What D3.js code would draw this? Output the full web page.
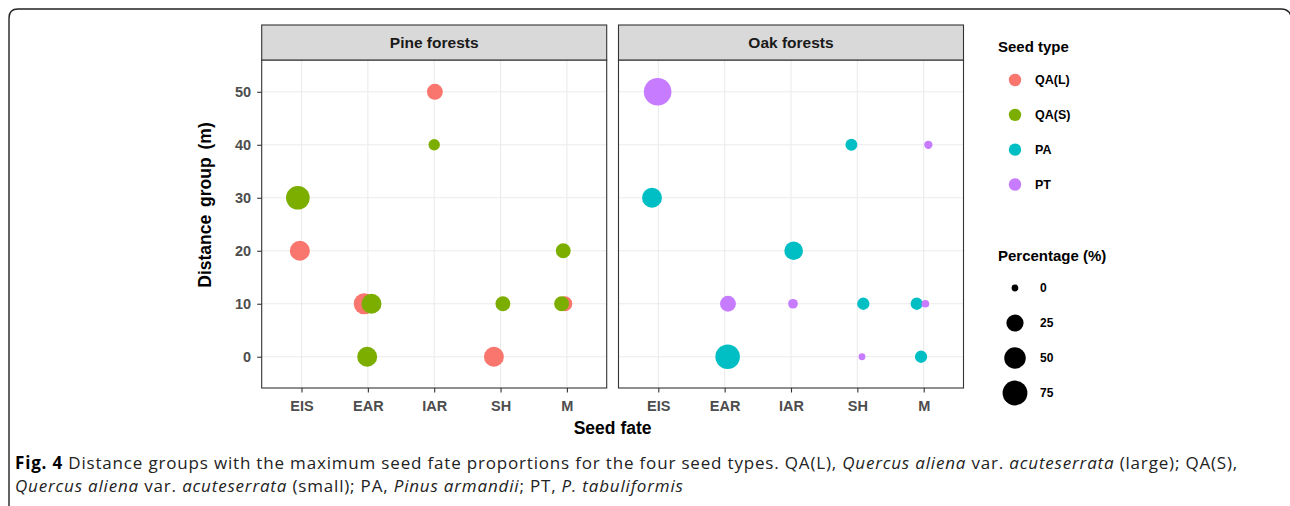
<!DOCTYPE html>
<html>
<head>
<meta charset="utf-8">
<script src="https://cdn.jsdelivr.net/npm/d3@7"></script>
<style>
  html, body { margin: 0; padding: 0; background: #fff; }
  svg { display: block; }
</style>
</head>
<body>
<svg id="chart" width="1290" height="506"></svg>
<script>
// Seed fate categories (x axis), forest panels and seed types
const fates = ["EIS", "EAR", "IAR", "SH", "M"];
const forests = ["Pine forests", "Oak forests"];
const seedTypes = ["QA(L)", "QA(S)", "PA", "PT"];
const yTicks = [0, 10, 20, 30, 40, 50];
const sizeBreaks = [0, 25, 50, 75];

// Rows: [seed fate, distance group (m), percentage (%), jitter (category units)]
const pineQAL = [
  ["IAR", 50, 19, 0.01],
  ["EIS", 20, 40, -0.025],
  ["EAR", 10, 46, -0.055],
  ["SH", 0, 40, -0.1],
  ["M", 10, 15, -0.03]
];
const pineQAS = [
  ["IAR", 40, 5, 0],
  ["EIS", 30, 66, -0.055],
  ["EAR", 10, 40, 0.055],
  ["EAR", 0, 40, -0.01],
  ["SH", 10, 15, 0.035],
  ["M", 20, 15, -0.055],
  ["M", 10, 15, -0.08]
];
const oakPA = [
  ["SH", 40, 6, -0.09],
  ["EIS", 30, 40, -0.095],
  ["IAR", 20, 32, 0.04],
  ["SH", 10, 7, 0.09],
  ["M", 10, 7, -0.105],
  ["EAR", 0, 73, 0.045],
  ["M", 0, 7, -0.04]
];
const oakPT = [
  ["EIS", 50, 100, -0.01],
  ["M", 40, 0.5, 0.07],
  ["EAR", 10, 19, 0.05],
  ["IAR", 10, 2, 0.03],
  ["M", 10, 0.2, 0.025],
  ["SH", 0, 0, 0.07]
];

const panelSeries = [
  [{ type: "QA(L)", rows: pineQAL }, { type: "QA(S)", rows: pineQAS }],
  [{ type: "PA", rows: oakPA }, { type: "PT", rows: oakPT }]
];

// ---- layout & styles ----
const font = "'Liberation Sans', Arial, Helvetica, sans-serif";
const svg = d3.select("#chart");

const colour = d3.scaleOrdinal()
  .domain(seedTypes)
  .range(["#F8766D", "#7CAE00", "#00BFC4", "#C77CFF"]);

const panelTop = 60, panelBottom = 388, stripTop = 25;
const panelLefts = [261.7, 618.5];
const panelW = 345;

const y = d3.scaleLinear().domain([-5.9, 56]).range([panelBottom, panelTop]);

const allPct = [pineQAL, pineQAS, oakPA, oakPT].flat().map(d => d[2]);
const size = d3.scaleSqrt().domain([0, d3.max(allPct)]).range([3.4, 13.8]);

// outer figure frame with rounded corners
svg.append("path")
  .attr("d", "M9,506 V18 Q9,9 18,9 H1281 Q1289,9 1291,16")
  .attr("fill", "none").attr("stroke", "#222").attr("stroke-width", 1.4);

forests.forEach((forest, p) => {
  const left = panelLefts[p];
  const x = d3.scaleLinear().domain([0.4, fates.length + 0.6]).range([left, left + panelW]);
  const xc = f => x(fates.indexOf(f) + 1);
  const g = svg.append("g");

  // panel background and grid
  g.append("rect").attr("x", left).attr("y", panelTop)
    .attr("width", panelW).attr("height", panelBottom - panelTop).attr("fill", "#fff");
  g.selectAll(".gy").data(yTicks).join("line")
    .attr("x1", left).attr("x2", left + panelW)
    .attr("y1", d => y(d)).attr("y2", d => y(d))
    .attr("stroke", "#ebebeb").attr("stroke-width", 1.1);
  g.selectAll(".gx").data(fates).join("line")
    .attr("x1", d => xc(d)).attr("x2", d => xc(d))
    .attr("y1", panelTop).attr("y2", panelBottom)
    .attr("stroke", "#ebebeb").attr("stroke-width", 1.1);

  // points, drawn in seed type order
  panelSeries[p].forEach(s => {
    g.selectAll(null).data(s.rows).join("circle")
      .attr("cx", d => x(fates.indexOf(d[0]) + 1 + d[3]))
      .attr("cy", d => y(d[1]))
      .attr("r", d => size(d[2]))
      .attr("fill", colour(s.type));
  });

  // panel border
  g.append("rect").attr("x", left).attr("y", panelTop)
    .attr("width", panelW).attr("height", panelBottom - panelTop)
    .attr("fill", "none").attr("stroke", "#333").attr("stroke-width", 1.1);

  // strip
  g.append("rect").attr("x", left).attr("y", stripTop)
    .attr("width", panelW).attr("height", panelTop - stripTop)
    .attr("fill", "#d9d9d9").attr("stroke", "#333").attr("stroke-width", 1.1);
  g.append("text").attr("x", left + panelW / 2).attr("y", (stripTop + panelTop) / 2)
    .attr("dy", "0.35em").attr("text-anchor", "middle")
    .attr("font-family", font).attr("font-weight", "bold").attr("font-size", 15.5)
    .attr("fill", "#1a1a1a").text(forest);

  // x axis
  const xAxis = d3.axisBottom(x).tickValues(fates.map((f, i) => i + 1))
    .tickFormat(i => fates[i - 1]).tickSize(4.5).tickPadding(8);
  const ax = g.append("g").attr("transform", `translate(0,${panelBottom})`).call(xAxis);
  ax.select(".domain").remove();
  ax.selectAll(".tick line").attr("stroke", "#333").attr("stroke-width", 1.1);
  ax.selectAll(".tick text").attr("font-family", font).attr("font-weight", "bold")
    .attr("font-size", 14.5).attr("fill", "#4d4d4d");

  // y axis on the first panel only
  if (p === 0) {
    const yAxis = d3.axisLeft(y).tickValues(yTicks).tickSize(4.5).tickPadding(6);
    const ay = g.append("g").attr("transform", `translate(${left},0)`).call(yAxis);
    ay.select(".domain").remove();
    ay.selectAll(".tick line").attr("stroke", "#333").attr("stroke-width", 1.1);
    ay.selectAll(".tick text").attr("font-family", font).attr("font-weight", "bold")
      .attr("font-size", 14.5).attr("fill", "#4d4d4d");
  }
});

// axis titles
svg.append("text").attr("x", (panelLefts[0] + panelLefts[1] + panelW) / 2).attr("y", 434)
  .attr("text-anchor", "middle").attr("font-family", font).attr("font-weight", "bold")
  .attr("font-size", 17.5).attr("fill", "#000").text("Seed fate");
svg.append("text")
  .attr("transform", "translate(211,205) rotate(-90)")
  .attr("text-anchor", "middle").attr("font-family", font).attr("font-weight", "bold")
  .attr("font-size", 17.5).attr("fill", "#000").attr("word-spacing", 3)
  .text("Distance group (m)");

// legend: seed type
const lg = svg.append("g");
lg.append("text").attr("x", 998).attr("y", 52).attr("font-family", font)
  .attr("font-weight", "bold").attr("font-size", 15).attr("fill", "#000").text("Seed type");
const keyY = d3.scalePoint().domain(seedTypes).range([80, 184.5]);
seedTypes.forEach(t => {
  lg.append("circle").attr("cx", 1015).attr("cy", keyY(t)).attr("r", 6.2).attr("fill", colour(t));
  lg.append("text").attr("x", 1035).attr("y", keyY(t)).attr("dy", "0.35em")
    .attr("font-family", font).attr("font-weight", "bold").attr("font-size", 12.5)
    .attr("fill", "#000").text(t);
});

// legend: percentage sizes
lg.append("text").attr("x", 998).attr("y", 261).attr("font-family", font)
  .attr("font-weight", "bold").attr("font-size", 15).attr("fill", "#000").text("Percentage (%)");
const sizeY = d3.scalePoint().domain(sizeBreaks).range([288, 393]);
sizeBreaks.forEach(b => {
  lg.append("circle").attr("cx", 1015).attr("cy", sizeY(b)).attr("r", size(b)).attr("fill", "#000");
  lg.append("text").attr("x", 1040).attr("y", sizeY(b)).attr("dy", "0.35em")
    .attr("font-family", font).attr("font-weight", "bold").attr("font-size", 12)
    .attr("fill", "#000").text(b);
});

// figure caption
const capFont = "'Open Sans', 'Noto Sans', sans-serif";
const cap = svg.append("g").attr("font-family", capFont).attr("font-size", 17)
  .attr("letter-spacing", 0.82).attr("fill", "#222");
const line1 = [
  ["Fig. 4", "bold", "normal"],
  [" Distance groups with the maximum seed fate proportions for the four seed types. QA(L), ", "normal", "normal"],
  ["Quercus aliena", "normal", "italic"],
  [" var. ", "normal", "normal"],
  ["acuteserrata", "normal", "italic"],
  [" (large); QA(S),", "normal", "normal"]
];
const line2 = [
  ["Quercus aliena", "normal", "italic"],
  [" var. ", "normal", "normal"],
  ["acuteserrata", "normal", "italic"],
  [" (small); PA, ", "normal", "normal"],
  ["Pinus armandii", "normal", "italic"],
  ["; PT, ", "normal", "normal"],
  ["P. tabuliformis", "normal", "italic"]
];
[[line1, 469], [line2, 492]].forEach(([parts, yy]) => {
  const t = cap.append("text").attr("x", 15).attr("y", yy).style("white-space", "pre");
  parts.forEach(([s, w, st]) => {
    t.append("tspan").attr("font-weight", w).attr("font-style", st)
      .attr("fill", w === "bold" ? "#000" : "#222").text(s);
  });
});
</script>
</body>
</html>
